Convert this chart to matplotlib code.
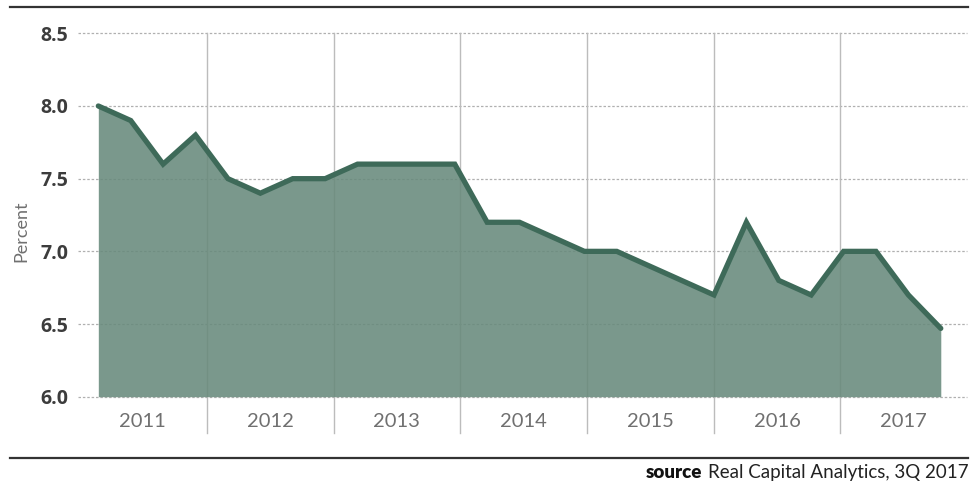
import numpy as np
import matplotlib
matplotlib.use('Agg')
import matplotlib.pyplot as plt
from matplotlib.lines import Line2D

# quarterly cap rates, 1Q 2011 .. 3Q 2017
quarters = ['1Q11', '2Q11', '3Q11', '4Q11',
            '1Q12', '2Q12', '3Q12', '4Q12',
            '1Q13', '2Q13', '3Q13', '4Q13',
            '1Q14', '2Q14', '3Q14', '4Q14',
            '1Q15', '2Q15', '3Q15', '4Q15',
            '1Q16', '2Q16', '3Q16', '4Q16',
            '1Q17', '2Q17', '3Q17']
cap_rate = [8.0, 7.9, 7.6, 7.8,
            7.5, 7.4, 7.5, 7.5,
            7.6, 7.6, 7.6, 7.6,
            7.2, 7.2, 7.1, 7.0,
            7.0, 6.9, 6.8, 6.7,
            7.2, 6.8, 6.7, 7.0,
            7.0, 6.7, 6.47]
years = ['2011', '2012', '2013', '2014', '2015', '2016', '2017']
yticks = [6.0, 6.5, 7.0, 7.5, 8.0, 8.5]

fill_col = '#688a7c'
line_col = '#3e6a59'
grid_col = '#bcbcbc'

x = np.arange(len(quarters))

fig = plt.figure(figsize=(9.75, 4.87), dpi=100)
ax = fig.add_axes([0.08, 0.1854, 0.9115, 0.7462])
ax.set_xlim(-0.627, 26.8)
ax.set_ylim(6.0, 8.5)

# dotted horizontal guides
for yv in yticks:
    ax.axhline(yv, color='#b0b0b0', lw=0.9, ls=(0, (2, 1.5)), zorder=1, clip_on=False)

# year separators, hanging down into the label strip
year_edges = [3.35 + 3.91 * k for k in range(len(years) - 1)]
for xe in year_edges:
    ax.axvline(xe, ymin=-0.1, ymax=1.0, color=grid_col, lw=1.0, zorder=1, clip_on=False)

ax.fill_between(x, cap_rate, 6.0, color=fill_col, alpha=0.88, lw=0, zorder=2)
ax.plot(x, cap_rate, color=line_col, lw=3.8, solid_joinstyle='miter',
        solid_capstyle='round', zorder=3)

# year labels centred in each band
bounds = [ax.get_xlim()[0]] + year_edges + [ax.get_xlim()[1]]
for i, yr in enumerate(years):
    xc = (bounds[i] + bounds[i + 1]) / 2
    ax.text(xc, -0.067, yr, transform=ax.get_xaxis_transform(), ha='center', va='center',
            fontsize=14.5, fontfamily='Lato', fontweight='normal', color='#707070')

ax.set_yticks(yticks)
ax.set_yticklabels(['%.1f' % v for v in yticks], fontsize=14, fontfamily='Open Sans',
                   fontweight='bold', color='#3c3c3c')
ax.tick_params(axis='y', length=0, pad=7)
ax.set_xticks([])
for sp in ax.spines.values():
    sp.set_visible(False)

fig.text(0.022, 0.525, 'Percent', rotation=90, ha='center', va='center', fontsize=13,
         fontfamily='Lato', fontweight='normal', color='#707070')

# rules above and below the chart
fig.add_artist(Line2D([0.01, 0.993], [0.986, 0.986], color='#333333', lw=1.6))
fig.add_artist(Line2D([0.01, 0.993], [0.060, 0.060], color='#333333', lw=1.6))

src = fig.text(0.993, 0.018, 'Real Capital Analytics, 3Q 2017', ha='right', va='baseline',
               fontsize=13.5, fontfamily='Lato', color='#222222')
fig.canvas.draw()
bb = src.get_window_extent()
x0 = fig.transFigure.inverted().transform((bb.x0 - 5, 0))[0]
fig.text(x0, 0.018, 'source', ha='right', va='baseline', fontsize=13.5,
         fontfamily='Lato', fontweight='heavy', color='#111111')

fig.savefig('out.png', dpi=100)
